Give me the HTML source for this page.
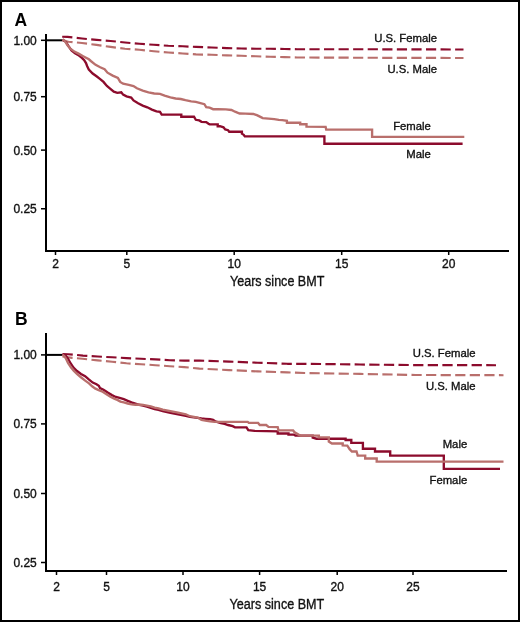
<!DOCTYPE html>
<html><head><meta charset="utf-8"><style>
html,body{margin:0;padding:0;background:#fff;}
svg{display:block;will-change:transform;}
text{font-family:"Liberation Sans",sans-serif;fill:#111;stroke:#111;stroke-width:0.35px;}
.t{font-size:12px;}
.s{font-size:11.3px;}
.ax{font-size:15.1px;}
.big{font-size:17.5px;font-weight:bold;fill:#000;stroke:none;}
</style></head><body>
<svg width="520" height="622" viewBox="0 0 520 622">
<rect x="1" y="1" width="518" height="620" fill="#fff" stroke="#000" stroke-width="2"/>
<text x="14.4" y="25.5" class="big">A</text>
<rect x="45" y="34" width="2" height="218" fill="#000"/>
<rect x="45" y="250" width="464" height="2" fill="#000"/>
<rect x="41" y="39.55" width="5" height="1.5" fill="#000"/><text x="36.8" y="44.7" text-anchor="end" class="t">1.00</text>
<rect x="41" y="95.95" width="5" height="1.5" fill="#000"/><text x="36.8" y="100.9" text-anchor="end" class="t">0.75</text>
<rect x="41" y="149.35" width="5" height="1.5" fill="#000"/><text x="36.8" y="155.0" text-anchor="end" class="t">0.50</text>
<rect x="41" y="208.00" width="5" height="1.5" fill="#000"/><text x="36.8" y="213.1" text-anchor="end" class="t">0.25</text>
<rect x="54.75" y="251" width="1.5" height="4" fill="#000"/><text x="55.50" y="268.2" text-anchor="middle" class="t">2</text>
<rect x="126.05" y="251" width="1.5" height="4" fill="#000"/><text x="126.80" y="268.2" text-anchor="middle" class="t">5</text>
<rect x="233.45" y="251" width="1.5" height="4" fill="#000"/><text x="234.20" y="268.2" text-anchor="middle" class="t">10</text>
<rect x="340.95" y="251" width="1.5" height="4" fill="#000"/><text x="341.70" y="268.2" text-anchor="middle" class="t">15</text>
<rect x="447.95" y="251" width="1.5" height="4" fill="#000"/><text x="448.70" y="268.2" text-anchor="middle" class="t">20</text>
<text x="230" y="285.8" class="ax" textLength="94.3" lengthAdjust="spacingAndGlyphs">Years since BMT</text>
<rect x="46" y="39.3" width="16.5" height="2" fill="#000"/>
<polyline points="62.5,40.5 68.5,41.7 82.0,43.0 96.5,44.9 110.6,46.9 125.0,48.7 139.4,49.8 153.8,51.2 168.3,52.5 182.7,53.5 196.0,54.4 211.5,54.8 226.9,55.4 241.3,55.8 255.8,56.3 270.2,56.7 284.6,57.1 297.0,57.5 380.0,57.8 463.5,58.0" fill="none" stroke="#b96f6c" stroke-width="2.15" stroke-dasharray="10.2 4.37" stroke-linejoin="round"/>
<polyline points="62.2,36.7 67.5,36.9 82.0,38.5 96.6,39.9 110.6,41.0 125.0,42.5 139.4,43.8 153.8,44.8 168.3,45.8 182.7,46.3 196.0,46.9 211.5,47.5 226.9,48.1 241.3,48.5 255.8,48.7 270.2,48.8 284.6,49.0 297.0,49.2 380.0,49.3 463.5,49.5" fill="none" stroke="#8c0b2c" stroke-width="2.15" stroke-dasharray="10.2 4.37" stroke-linejoin="round"/>
<polyline points="62.5,39.5 65.8,41.8 68.7,46.4 71.5,50.4 75.0,53.3 79.0,55.6 81.9,57.9 84.2,60.2 86.0,63.1 87.1,66.0 88.8,69.6 92.7,73.5 96.5,76.3 100.2,79.1 103.5,81.9 106.9,86.0 110.4,88.8 113.8,91.7 117.3,92.9 121.3,92.3 123.1,94.6 126.5,96.3 131.2,97.5 133.5,100.4 138.1,103.3 142.7,105.6 147.3,107.3 151.9,109.6 156.5,111.3 160.0,111.9 161.7,114.6 181.3,114.6 181.3,116.7 194.0,116.7 195.8,119.8 199.2,120.4 201.5,121.8 206.2,122.1 208.5,123.8 209.6,124.4 217.7,124.4 217.7,126.2 220.0,126.1 223.5,127.3 225.2,129.4 228.1,130.2 229.2,131.7 241.9,131.7 241.9,133.7 243.7,134.8 244.8,136.4 324.4,136.4 324.4,143.7 462.6,143.7" fill="none" stroke="#8c0b2c" stroke-width="2.35" stroke-linejoin="miter" stroke-miterlimit="2"/>
<polyline points="62.5,39.5 64.6,40.6 67.5,45.2 70.4,48.7 74.4,51.6 79.0,53.9 83.1,56.2 88.9,59.3 90.8,61.0 95.6,64.8 100.2,67.3 104.6,69.2 107.5,72.7 112.7,75.6 117.9,77.9 120.2,81.9 123.1,83.7 128.8,84.8 133.5,86.0 136.9,88.3 142.7,90.6 148.5,92.3 154.2,93.5 160.0,93.8 164.6,95.6 170.4,97.3 175.6,98.5 180.8,99.0 185.4,100.2 191.2,101.3 195.8,101.9 200.4,103.1 204.4,104.2 206.2,107.1 209.6,107.7 213.1,109.2 218.0,109.2 225.8,109.4 231.5,110.0 235.0,111.7 239.6,113.5 245.4,113.7 253.5,114.0 256.9,115.2 260.4,116.9 262.7,118.1 268.5,118.7 274.2,119.2 278.8,119.9 282.3,120.2 286.9,120.8 286.9,122.7 300.2,122.7 300.2,124.2 306.5,124.2 306.5,126.6 325.6,126.8 326.2,129.6 372.1,129.6 372.1,136.9 464.3,136.9" fill="none" stroke="#b96f6c" stroke-width="2.35" stroke-linejoin="miter" stroke-miterlimit="2"/>
<text x="437" y="42.3" text-anchor="end" class="s">U.S. Female</text>
<text x="437" y="73.2" text-anchor="end" class="s">U.S. Male</text>
<text x="430.8" y="130.2" text-anchor="end" class="s">Female</text>
<text x="430.8" y="158.3" text-anchor="end" class="s">Male</text>
<text x="15" y="324.9" class="big">B</text>
<rect x="45" y="333" width="2" height="239" fill="#000"/>
<rect x="45" y="570" width="462" height="2" fill="#000"/>
<rect x="41" y="354.15" width="5" height="1.5" fill="#000"/><text x="36.8" y="358.9" text-anchor="end" class="t">1.00</text>
<rect x="41" y="423.15" width="5" height="1.5" fill="#000"/><text x="36.8" y="428.1" text-anchor="end" class="t">0.75</text>
<rect x="41" y="492.75" width="5" height="1.5" fill="#000"/><text x="36.8" y="497.8" text-anchor="end" class="t">0.50</text>
<rect x="41" y="561.75" width="5" height="1.5" fill="#000"/><text x="36.8" y="566.8" text-anchor="end" class="t">0.25</text>
<rect x="55.75" y="571" width="1.5" height="4" fill="#000"/><text x="56.50" y="590.8" text-anchor="middle" class="t">2</text>
<rect x="105.75" y="571" width="1.5" height="4" fill="#000"/><text x="106.50" y="590.8" text-anchor="middle" class="t">5</text>
<rect x="182.25" y="571" width="1.5" height="4" fill="#000"/><text x="183.00" y="590.8" text-anchor="middle" class="t">10</text>
<rect x="258.85" y="571" width="1.5" height="4" fill="#000"/><text x="259.60" y="590.8" text-anchor="middle" class="t">15</text>
<rect x="336.45" y="571" width="1.5" height="4" fill="#000"/><text x="337.20" y="590.8" text-anchor="middle" class="t">20</text>
<rect x="412.25" y="571" width="1.5" height="4" fill="#000"/><text x="413.00" y="590.8" text-anchor="middle" class="t">25</text>
<text x="229.5" y="608.7" class="ax" textLength="94.8" lengthAdjust="spacingAndGlyphs">Years since BMT</text>
<rect x="46" y="353.9" width="16.5" height="2" fill="#000"/>
<polyline points="62.5,356.5 72.0,357.9 82.5,358.7 97.7,360.4 112.1,361.7 126.5,363.3 141.0,364.2 155.4,365.2 169.8,366.2 184.2,367.1 199.5,368.6 229.1,370.1 257.7,371.4 287.3,372.4 304.6,373.0 360.0,373.9 415.4,375.0 503.5,375.2" fill="none" stroke="#b96f6c" stroke-width="2.15" stroke-dasharray="10.2 4.37" stroke-linejoin="round"/>
<polyline points="62.5,354.1 68.0,354.2 83.0,355.6 97.7,356.5 112.1,357.3 126.5,358.1 141.0,358.8 155.4,359.4 169.8,360.2 184.2,360.6 199.5,360.6 229.1,361.6 257.7,362.7 287.3,363.8 304.6,363.8 360.0,364.5 415.4,365.1 496.0,365.2" fill="none" stroke="#8c0b2c" stroke-width="2.15" stroke-dasharray="10.28 4.34" stroke-linejoin="round"/>
<polyline points="62.5,354.8 65.3,355.2 67.8,358.3 70.7,363.5 73.5,367.6 77.0,371.0 81.0,373.9 85.1,376.2 88.8,379.4 92.7,382.6 96.5,384.3 98.8,385.8 100.0,388.0 103.5,389.7 108.1,392.8 111.9,395.1 115.8,397.0 119.6,397.9 123.8,399.2 127.7,400.8 131.5,402.4 135.4,403.5 139.2,404.8 143.1,405.6 146.9,406.7 150.8,407.9 154.6,409.0 158.5,409.8 162.7,411.2 170.4,412.8 178.1,414.3 185.8,415.8 190.0,416.9 197.7,417.8 201.5,418.4 205.4,418.8 210.0,419.2 213.1,419.8 215.4,421.5 220.8,423.1 224.6,423.8 228.1,425.0 232.7,426.2 235.0,427.3 246.5,427.3 248.3,430.2 254.6,430.8 277.7,431.3 277.7,433.5 288.5,433.5 288.5,434.6 293.8,434.6 295.4,435.6 312.7,435.6 312.7,437.7 316.5,438.7 345.6,438.7 345.6,440.0 351.3,440.0 351.3,442.9 362.9,442.9 362.9,448.7 375.0,448.7 375.0,451.5 390.2,451.5 390.2,455.6 443.8,455.6 443.8,468.9 500.0,468.9" fill="none" stroke="#8c0b2c" stroke-width="2.35" stroke-linejoin="miter" stroke-miterlimit="2"/>
<polyline points="62.5,354.8 64.5,356.3 65.8,358.3 68.0,362.8 70.9,367.2 73.7,370.6 77.2,374.1 81.2,377.5 85.2,380.6 89.0,383.4 92.1,386.3 95.0,388.4 98.1,389.8 101.9,391.3 106.5,394.3 110.4,396.8 114.2,398.6 117.3,399.9 120.4,401.6 123.8,402.4 127.7,403.5 131.5,404.3 135.4,404.7 139.2,404.5 143.1,404.9 146.9,405.6 150.8,406.4 154.6,407.6 158.5,408.3 162.7,409.7 170.4,411.2 178.1,412.7 185.8,414.3 190.0,416.2 197.7,417.5 201.5,419.8 205.4,420.7 210.0,421.4 214.6,421.8 247.7,421.9 248.8,422.9 258.1,422.9 259.8,425.0 266.2,425.0 268.5,426.9 277.7,427.2 278.5,430.4 293.1,430.4 294.6,432.3 298.5,434.6 300.8,435.6 318.8,435.6 318.8,437.3 328.8,437.3 328.8,441.5 331.9,443.5 342.7,443.5 342.7,445.4 347.3,445.6 349.6,449.2 351.9,451.5 356.5,451.5 357.7,455.6 365.2,455.6 365.2,458.5 376.7,458.5 376.7,461.6 503.5,461.6" fill="none" stroke="#b96f6c" stroke-width="2.35" stroke-linejoin="miter" stroke-miterlimit="2"/>
<text x="475.5" y="356.9" text-anchor="end" class="s">U.S. Female</text>
<text x="475.5" y="390.4" text-anchor="end" class="s">U.S. Male</text>
<text x="467.2" y="447.7" text-anchor="end" class="s">Male</text>
<text x="467.2" y="483.8" text-anchor="end" class="s">Female</text>
</svg>
</body></html>
